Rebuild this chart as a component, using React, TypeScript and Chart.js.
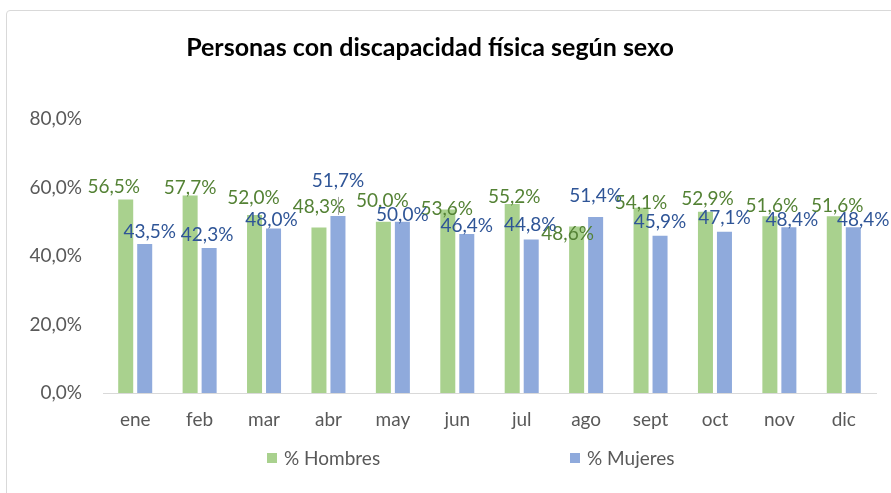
import React, { useEffect, useRef } from "react";
import { Chart, registerables } from "chart.js";

Chart.register(...registerables);

// ---- data ----
const chartTitle = "Personas con discapacidad física según sexo";
const months = ["ene", "feb", "mar", "abr", "may", "jun", "jul", "ago", "sept", "oct", "nov", "dic"];
const seriesNames = ["% Hombres", "% Mujeres"];
const hombres = [56.5, 57.7, 52.0, 48.3, 50.0, 53.6, 55.2, 48.6, 54.1, 52.9, 51.6, 51.6];
const mujeres = [43.5, 42.3, 48.0, 51.7, 50.0, 46.4, 44.8, 51.4, 45.9, 47.1, 48.4, 48.4];
const yMin = 0;
const yMax = 80;
const yStep = 20;

// ---- styling ----
const FONT = "Lato, 'Open Sans', 'Liberation Sans', sans-serif";
const barColors = ["#A9D18E", "#8FAADC"];
const labelColors = ["#548235", "#2F5597"];
const axisTextColor = "#595959";
const lineColor = "#D9D9D9";

// label placement nudges (Excel manual label positions): [dx px, gap above bar top px]
const labelNudges: number[][][] = [
  [[-12, 6], [0, 1], [-1, 11], [0, 15], [-1, 15], [-1, -6], [2, 1], [-9, -13], [0, -1], [2, 7], [2, 4], [3, 4]],
  [[5, 6], [-2, 7], [-2, 3], [0, 29], [0, 1], [0, 2], [-1, 9], [0, 15], [0, 8], [0, 8], [3, 1], [10, 1]],
];

const fmt = (v: number) => v.toFixed(1).replace(".", ",") + "%";

const decorPlugin = {
  id: "decor",
  beforeDraw(chart: any) {
    const ctx = chart.ctx;
    ctx.save();
    ctx.strokeStyle = lineColor;
    ctx.lineWidth = 1;
    ctx.beginPath();
    ctx.moveTo(6.5, 600);
    ctx.lineTo(6.5, 14);
    ctx.quadraticCurveTo(6.5, 10.5, 10, 10.5);
    ctx.lineTo(1000, 10.5);
    ctx.stroke();
    // title
    ctx.fillStyle = "#000000";
    ctx.font = `bold 25px ${FONT}`;
    ctx.textAlign = "center";
    ctx.textBaseline = "middle";
    ctx.fillText(chartTitle, 430, 48);
    // legend
    const legendX = [267, 570];
    ctx.font = `19px ${FONT}`;
    ctx.textAlign = "left";
    for (let i = 0; i < seriesNames.length; i++) {
      ctx.fillStyle = barColors[i];
      ctx.fillRect(legendX[i], 453, 10, 10);
      ctx.fillStyle = axisTextColor;
      ctx.fillText(seriesNames[i], legendX[i] + 17, 459);
    }
    ctx.restore();
  },
  afterDatasetsDraw(chart: any) {
    const ctx = chart.ctx;
    ctx.save();
    ctx.font = `19px ${FONT}`;
    ctx.textAlign = "center";
    ctx.textBaseline = "alphabetic";
    chart.data.datasets.forEach((ds: any, di: number) => {
      const meta = chart.getDatasetMeta(di);
      meta.data.forEach((el: any, i: number) => {
        const [dx, gap] = labelNudges[di][i];
        const baseline = el.y - gap;
        if (gap > 20) {
          ctx.strokeStyle = "#A6A6A6";
          ctx.lineWidth = 1;
          ctx.beginPath();
          ctx.moveTo(Math.round(el.x) + 0.5, el.y - 1);
          ctx.lineTo(Math.round(el.x) + 0.5, baseline + 10);
          ctx.stroke();
        }
        ctx.fillStyle = labelColors[di];
        ctx.fillText(fmt(ds.data[i]), el.x + dx, baseline);
      });
    });
    ctx.restore();
  },
};

export default function App() {
  const ref = useRef<HTMLCanvasElement | null>(null);

  useEffect(() => {
    document.body.style.margin = "0";
    const canvas = ref.current;
    if (!canvas) return;
    const chart = new Chart(canvas, {
      type: "bar",
      data: {
        labels: months,
        datasets: [
          { label: seriesNames[0], data: hombres, backgroundColor: barColors[0], categoryPercentage: 0.59, barPercentage: 0.79 },
          { label: seriesNames[1], data: mujeres, backgroundColor: barColors[1], categoryPercentage: 0.59, barPercentage: 0.79 },
        ],
      },
      options: {
        responsive: false,
        animation: false,
        layout: { padding: { top: 119, right: 15, left: 0, bottom: 0 } },
        plugins: {
          legend: { display: false },
          title: { display: false },
          tooltip: { enabled: false },
        },
        scales: {
          x: {
            grid: { display: false, drawTicks: false },
            border: { display: true, color: lineColor, width: 1 },
            ticks: { font: { family: FONT, size: 19 }, color: axisTextColor, padding: 15 },
            afterFit: (s: any) => {
              s.height = 100;
            },
          },
          y: {
            min: yMin,
            max: yMax,
            grid: { display: false, drawTicks: false },
            border: { display: false },
            ticks: {
              stepSize: yStep,
              font: { family: FONT, size: 19 },
              color: axisTextColor,
              padding: 21,
              callback: (v: any) => fmt(Number(v)),
            },
            afterFit: (s: any) => {
              s.width = 103;
            },
          },
        },
      },
      plugins: [decorPlugin],
    });
    return () => chart.destroy();
  }, []);

  return (
    <div style={{ position: "relative", width: 891, height: 493, background: "#ffffff" }}>
      <canvas ref={ref} width={891} height={493} style={{ display: "block" }} />
    </div>
  );
}
